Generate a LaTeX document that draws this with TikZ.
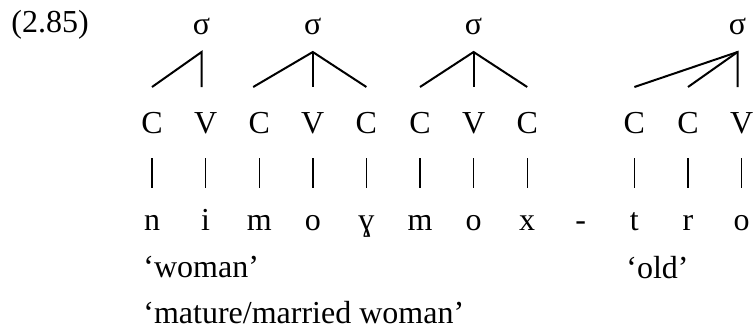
\documentclass[tikz,border=0pt]{standalone}
\usepackage{fontspec}
\setmainfont{Liberation Serif}
\usetikzlibrary{positioning}

\begin{document}
\begin{tikzpicture}[
    x=0.5pt, y=-0.5pt,
    on grid, node distance=26.8pt,
    seg/.style={inner sep=0pt, text height=10.5pt, text depth=0pt},
    gloss/.style={inner sep=0pt, anchor=base west},
    branch/.style={line width=1pt},
    bar/.style={line width=0.7pt, shorten <=12.5pt, shorten >=10.5pt},
    font=\fontsize{16}{19}\selectfont
]
\useasboundingbox (0,0) rectangle (755,333);

% Example number
\node[gloss] (num) at (11,32) {(2.85)};

% CV tier
\node[seg] (c1) at (152,122.5) {C};
\node[seg, right=of c1] (v1) {V};
\node[seg, right=of v1] (c2) {C};
\node[seg, right=of c2] (v2) {V};
\node[seg, right=of v2] (c3) {C};
\node[seg, right=of c3] (c4) {C};
\node[seg, right=of c4] (v3) {V};
\node[seg, right=of v3] (c5) {C};
\node[seg, right=53.6pt of c5] (c6) {C};
\node[seg, right=of c6] (c7) {C};
\node[seg, right=of c7] (v4) {V};

% Segments
\node[seg, below=48.5pt of c1] (sn) {n};
\node[seg, below=48.5pt of v1] (si) {i};
\node[seg, below=48.5pt of c2] (sm1) {m};
\node[seg, below=48.5pt of v2] (so1) {o};
\node[seg, below=48.5pt of c3] (sg) {ɣ};
\node[seg, below=48.5pt of c4] (sm2) {m};
\node[seg, below=48.5pt of v3] (so2) {o};
\node[seg, below=48.5pt of c5] (sx) {x};
\node[seg, right=of sx] (dash) {-};
\node[seg, below=48.5pt of c6] (st) {t};
\node[seg, below=48.5pt of c7] (sr) {r};
\node[seg, below=48.5pt of v4] (so3) {o};

% Association lines
\draw[bar] (c1) -- (sn);
\draw[bar] (v1) -- (si);
\draw[bar] (c2) -- (sm1);
\draw[bar] (v2) -- (so1);
\draw[bar] (c3) -- (sg);
\draw[bar] (c4) -- (sm2);
\draw[bar] (v3) -- (so2);
\draw[bar] (c5) -- (sx);
\draw[bar] (c6) -- (st);
\draw[bar] (c7) -- (sr);
\draw[bar] (v4) -- (so3);

% Syllable nodes
\node[seg, above=49.5pt of v1, xshift=-2pt] (syl1) {σ};
\node[seg, above=49.5pt of v2] (syl2) {σ};
\node[seg, above=49.5pt of v3] (syl3) {σ};
\node[seg, above=49.5pt of v4, xshift=-2pt] (syl4) {σ};

% Branch ends
\coordinate[below=14.25pt of syl1] (top1);
\coordinate[below=14.25pt of syl2] (top2);
\coordinate[below=14.25pt of syl3] (top3);
\coordinate[below=14.25pt of syl4] (top4);
\coordinate[above=17.75pt of c1] (c1top);
\coordinate (v1top) at (top1 |- c1top);
\coordinate[above=17.75pt of c2, xshift=-3pt] (c2top);
\coordinate[above=17.75pt of v2] (v2top);
\coordinate[above=17.75pt of c3] (c3top);
\coordinate[above=17.75pt of c4] (c4top);
\coordinate[above=17.75pt of v3] (v3top);
\coordinate[above=17.75pt of c5] (c5top);
\coordinate[above=17.75pt of c6] (c6top);
\coordinate[above=17.75pt of c7] (c7top);
\coordinate (v4top) at (top4 |- c7top);

% Syllable branches
\draw[branch] (c1top) -- (top1) -- (v1top);
\draw[branch] (c2top) -- (top2) -- (c3top);
\draw[branch] (top2) -- (v2top);
\draw[branch] (c4top) -- (top3) -- (c5top);
\draw[branch] (top3) -- (v3top);
\draw[branch] (c6top) -- (top4) -- (v4top);
\draw[branch] (c7top) -- (top4);

% Glosses
\node[gloss] (woman) at (143,277) {‘woman’};
\node[gloss] (old) at (626,278) {‘old’};
\node[gloss] (mature) at (143,323) {‘mature/married woman’};

\end{tikzpicture}
\end{document}
